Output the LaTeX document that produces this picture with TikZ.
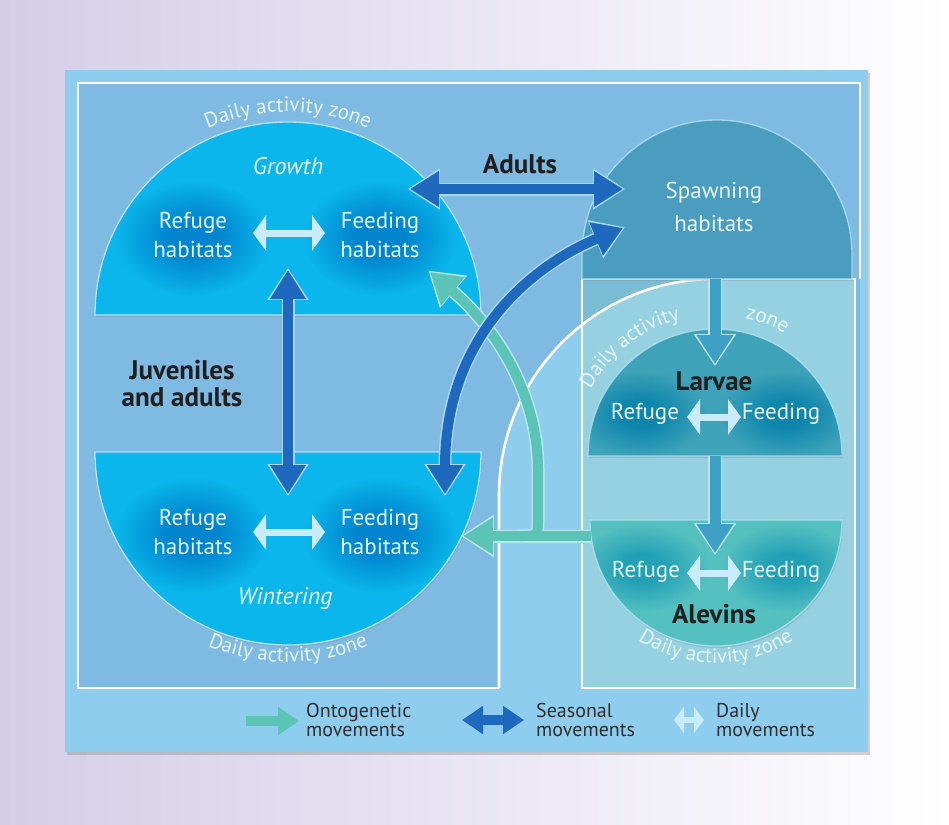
\documentclass[tikz,border=0pt]{standalone}
\usepackage{fontspec}
\setmainfont{PT Sans}
\usetikzlibrary{arrows.meta,decorations.text,shadows,calc}
\definecolor{bgl}{RGB}{212,205,232}
\definecolor{panel}{RGB}{143,205,239}
\definecolor{darkreg}{RGB}{127,186,227}
\definecolor{rcol}{RGB}{150,209,226}
\definecolor{rcold}{RGB}{122,188,212}
\definecolor{domeb}{RGB}{10,182,235}
\definecolor{domebg}{RGB}{0,132,206}
\definecolor{spawn}{RGB}{74,157,191}
\definecolor{larv}{RGB}{62,163,185}
\definecolor{larvg}{RGB}{14,134,172}
\definecolor{alev}{RGB}{84,192,192}
\definecolor{alevg}{RGB}{34,160,182}
\definecolor{seasc}{RGB}{30,104,190}
\definecolor{ontoc}{RGB}{92,196,182}
\definecolor{devc}{RGB}{62,160,196}
\definecolor{dailyc}{RGB}{200,236,250}
\definecolor{txtl}{RGB}{228,246,252}
\definecolor{outl}{RGB}{168,214,240}
\definecolor{outt}{RGB}{185,230,232}
\definecolor{rimc}{RGB}{180,228,248}
\colorlet{gin}{black}
\colorlet{gout}{white}
\pgfdeclareradialshading[gin,gout]{glow}{\pgfpoint{0bp}{0bp}}{color(0bp)=(gin); color(7bp)=(gin); color(22bp)=(gout); color(25bp)=(gout); color(50bp)=(gout)}
\newcommand\dazf{\fontsize{21}{21}\selectfont}
\tikzset{
  frame/.style={draw=white, line width=2.6pt},
  rim/.style={draw=rimc, line width=1.3pt},
  lbl/.style={text=txtl, align=center, font=\fontsize{23}{29}\selectfont, inner sep=0pt},
  ttl/.style={text=txtl, font=\fontsize{24}{28}\selectfont\itshape, inner sep=0pt},
  blk/.style={text=black!88, align=center, font=\fontsize{27}{27}\selectfont\bfseries, inner sep=0pt},
  leg/.style={anchor=west, align=left, text=black!82, font=\fontsize{20}{19}\selectfont, inner sep=0pt},
  daz/.style={decorate, decoration={text along path, text={|\dazf|#1}, text align=center, text color=txtl}},
  seas/.style={draw=seasc, line width=10pt, >={Triangle[width=34pt,length=29pt]}},
  seasout/.style={draw=outl, line width=13pt, >={Triangle[width=39pt,length=32pt]}, shorten <=-2.2pt, shorten >=-2.2pt},
  onto/.style={draw=ontoc, line width=10pt, >={Triangle[width=35pt,length=30pt]}},
  ontoout/.style={draw=outt, line width=13pt, >={Triangle[width=40pt,length=33pt]}, shorten <=-2.2pt, shorten >=-2.2pt},
  dev/.style={draw=devc, line width=11pt, >={Triangle[width=35pt,length=29pt]}},
  devout/.style={draw=outt, line width=14pt, >={Triangle[width=40pt,length=32pt]}, shorten >=-2.2pt},
  daily/.style={draw=dailyc, line width=7pt, >={Triangle[width=35pt,length=13pt]}},
}
\begin{document}
\begin{tikzpicture}[x=1pt,y=-1pt]
\useasboundingbox (0,0) rectangle (949,824);
\shade[left color=bgl, right color=white] (0,0) rectangle (949,824);
% panel
\fill[panel, drop shadow={shadow xshift=2pt, shadow yshift=-3pt, opacity=0.35}] (65,70) rectangle (868,752);
\fill[darkreg] (78,83) rectangle (860,688);
\fill[rcold] (582,279) rectangle (855,688);
\begin{scope}
  \clip (499,688) -- (499,495) arc[start angle=180,end angle=90,radius=216pt] -- (900,279) -- (900,688) -- cycle;
  \fill[panel] (499,279) rectangle (582,688);
  \fill[rcol] (582,279) rectangle (855,688);
\end{scope}
\draw[frame] (499,688) -- (78,688) -- (78,83) -- (860,83) -- (860,279);
\draw[frame] (499,688) -- (499,495) arc[start angle=180,end angle=90,radius=216pt];
\draw[frame] (582,279) rectangle (855,688);

% centres
\coordinate (G) at (288,315);
\coordinate (W) at (288,452);
\coordinate (S) at (717,255);
\coordinate (L) at (715,456);
\coordinate (A) at (716,520);

% growth dome
\fill[domeb, drop shadow={shadow xshift=1pt, shadow yshift=-2pt, opacity=0.25}] (95,315) arc[start angle=180,end angle=0,radius=193pt] -- cycle;
\begin{scope}
  \clip (95,315) arc[start angle=180,end angle=0,radius=193pt] -- cycle;
  \colorlet{gin}{domebg}\colorlet{gout}{domeb}
  \shade[shading=glow] (193,238) ellipse[x radius=88pt, y radius=66pt];
  \shade[shading=glow] (380,238) ellipse[x radius=88pt, y radius=66pt];
\end{scope}
\draw[rim] (95,315) arc[start angle=180,end angle=0,radius=193pt] -- cycle;

% wintering dome
\fill[domeb, drop shadow={shadow xshift=1pt, shadow yshift=-2pt, opacity=0.25}] (95,452) arc[start angle=180,end angle=360,radius=193pt] -- cycle;
\begin{scope}
  \clip (95,452) arc[start angle=180,end angle=360,radius=193pt] -- cycle;
  \colorlet{gin}{domebg}\colorlet{gout}{domeb}
  \shade[shading=glow] (193,535) ellipse[x radius=88pt, y radius=66pt];
  \shade[shading=glow] (380,535) ellipse[x radius=88pt, y radius=66pt];
\end{scope}
\draw[rim] (95,452) arc[start angle=180,end angle=360,radius=193pt] -- cycle;

% spawning
\fill[spawn, drop shadow={shadow xshift=1pt, shadow yshift=-2pt, opacity=0.25}] (582,279) -- (582,255) arc[start angle=180,end angle=0,radius=135pt] -- (852,279) -- cycle;
\draw[rim, draw opacity=0.8] (582,279) -- (582,255) arc[start angle=180,end angle=0,radius=135pt] -- (852,279) -- cycle;

% larvae
\fill[larv, drop shadow={shadow xshift=1pt, shadow yshift=-2pt, opacity=0.25}] (588,456) arc[start angle=180,end angle=0,radius=127pt] -- cycle;
\begin{scope}
  \clip (588,456) arc[start angle=180,end angle=0,radius=127pt] -- cycle;
  \colorlet{gin}{larvg}\colorlet{gout}{larv}
  \shade[shading=glow] (640,414) ellipse[x radius=76pt, y radius=50pt];
  \shade[shading=glow] (786,414) ellipse[x radius=76pt, y radius=50pt];
\end{scope}
\draw[rim, draw opacity=0.8] (588,456) arc[start angle=180,end angle=0,radius=127pt] -- cycle;

% alevins
\fill[alev, drop shadow={shadow xshift=1pt, shadow yshift=-2pt, opacity=0.25}] (590,520) arc[start angle=180,end angle=360,radius=126pt] -- cycle;
\begin{scope}
  \clip (590,520) arc[start angle=180,end angle=360,radius=126pt] -- cycle;
  \colorlet{gin}{alevg}\colorlet{gout}{alev}
  \shade[shading=glow] (642,568) ellipse[x radius=76pt, y radius=50pt];
  \shade[shading=glow] (788,568) ellipse[x radius=76pt, y radius=50pt];
\end{scope}
\draw[rim, draw opacity=0.8] (590,520) arc[start angle=180,end angle=360,radius=126pt] -- cycle;

% daily activity zone texts
\path[daz={Daily activity zone}] ($(G)+(155:203pt)$) arc[start angle=155,end angle=25,radius=203pt];
\path[daz={Daily activity zone}] ($(W)+(205:210pt)$) arc[start angle=205,end angle=335,radius=210pt];
\path[daz={Daily activity}] ($(L)+(160:141pt)$) arc[start angle=160,end angle=96,radius=141pt];
\path[daz={zone}] ($(L)+(86:141pt)$) arc[start angle=86,end angle=52,radius=141pt];
\path[daz={Daily activity zone}] ($(A)+(196:143pt)$) arc[start angle=196,end angle=344,radius=143pt];

% arrow end points
\coordinate (sl1) at (715,279); \coordinate (sl2) at (715,364);
\coordinate (la1) at (715,456); \coordinate (la2) at (715,553);
\coordinate (oh1) at (591,536); \coordinate (oh2) at (463,536);
\coordinate (ob1) at (520,536); \coordinate (ob2) at (430,272);
\coordinate (ad1) at (410,189); \coordinate (ad2) at (623,189);
\coordinate (ju1) at (288,270); \coordinate (ju2) at (288,494);
\coordinate (cu1) at (445,494); \coordinate (cu2) at (623,228);

% development arrows (spawning -> larvae -> alevins)
\draw[devout,->] (sl1) -- (sl2);
\draw[dev,->] (sl1) -- (sl2);
\draw[devout,->] (la1) -- (la2);
\draw[dev,->] (la1) -- (la2);

% ontogenetic arrows
\draw[ontoout,->] (ob1) .. controls (538,536) .. (538,518) -- (538,470) .. controls (538,392) and (494,326) .. (ob2);
\draw[ontoout,->, shorten <=0pt] (oh1) -- (oh2);
\draw[onto,->] (ob1) .. controls (538,536) .. (538,518) -- (538,470) .. controls (538,392) and (494,326) .. (ob2);
\draw[onto,->] (oh1) -- (oh2);

% seasonal arrows
\draw[seasout,<->] (ad1) -- (ad2);
\draw[seas,<->] (ad1) -- (ad2);
\draw[seasout,<->] (ju1) -- (ju2);
\draw[seas,<->] (ju1) -- (ju2);
\draw[seasout,<->] (cu1) .. controls (445,330) and (540,262) .. (cu2);
\draw[seas,<->] (cu1) .. controls (445,330) and (540,262) .. (cu2);

% daily arrows
\coordinate (dg1) at (253,233); \coordinate (dg2) at (325,233);
\coordinate (dw1) at (253,532); \coordinate (dw2) at (325,532);
\coordinate (dl1) at (687,417); \coordinate (dl2) at (741,417);
\coordinate (da1) at (687,573); \coordinate (da2) at (741,573);
\draw[daily,<->] (dg1) -- (dg2);
\draw[daily,<->] (dw1) -- (dw2);
\draw[daily,<->] (dl1) -- (dl2);
\draw[daily,<->] (da1) -- (da2);

% labels
\node[ttl] (growth) at (288,166) {Growth};
\node[lbl] (gref) at (193,235) {Refuge\\habitats};
\node[lbl] (gfeed) at (380,235) {Feeding\\habitats};
\node[lbl] (wref) at (193,532) {Refuge\\habitats};
\node[lbl] (wfeed) at (380,532) {Feeding\\habitats};
\node[ttl] (winter) at (285,599) {Wintering};
\node[blk] (adults) at (520,164) {Adults};
\node[blk] (juv) at (182,384) {Juveniles\\and adults};
\node[lbl, font=\fontsize{23}{33}\selectfont] (spawnt) at (714,207) {Spawning\\habitats};
\node[blk] (larvae) at (714,381) {Larvae};
\node[lbl] (lref) at (645,414) {Refuge};
\node[lbl] (lfeed) at (781,414) {Feeding};
\node[lbl] (aref) at (646,572) {Refuge};
\node[lbl] (afeed) at (781,572) {Feeding};
\node[blk] (alevins) at (714,614) {Alevins};

% legend
\coordinate (lo1) at (246,721); \coordinate (lo2) at (299,721);
\coordinate (ls1) at (462,720); \coordinate (ls2) at (524,720);
\coordinate (ld1) at (674,720); \coordinate (ld2) at (704,720);
\draw[draw=ontoc, line width=10pt, ->, >={Triangle[width=27pt,length=21pt]}] (lo1) -- (lo2);
\draw[draw=seasc, line width=10pt, <->, >={Triangle[width=27pt,length=21pt]}] (ls1) -- (ls2);
\draw[draw=dailyc, line width=6pt, <->, >={Triangle[width=26pt,length=10pt]}] (ld1) -- (ld2);
\node[leg] (lt1) at (306,720) {Ontogenetic\\movements};
\node[leg] (lt2) at (536,720) {Seasonal\\movements};
\node[leg] (lt3) at (716,720) {Daily\\movements};
\end{tikzpicture}
\end{document}
